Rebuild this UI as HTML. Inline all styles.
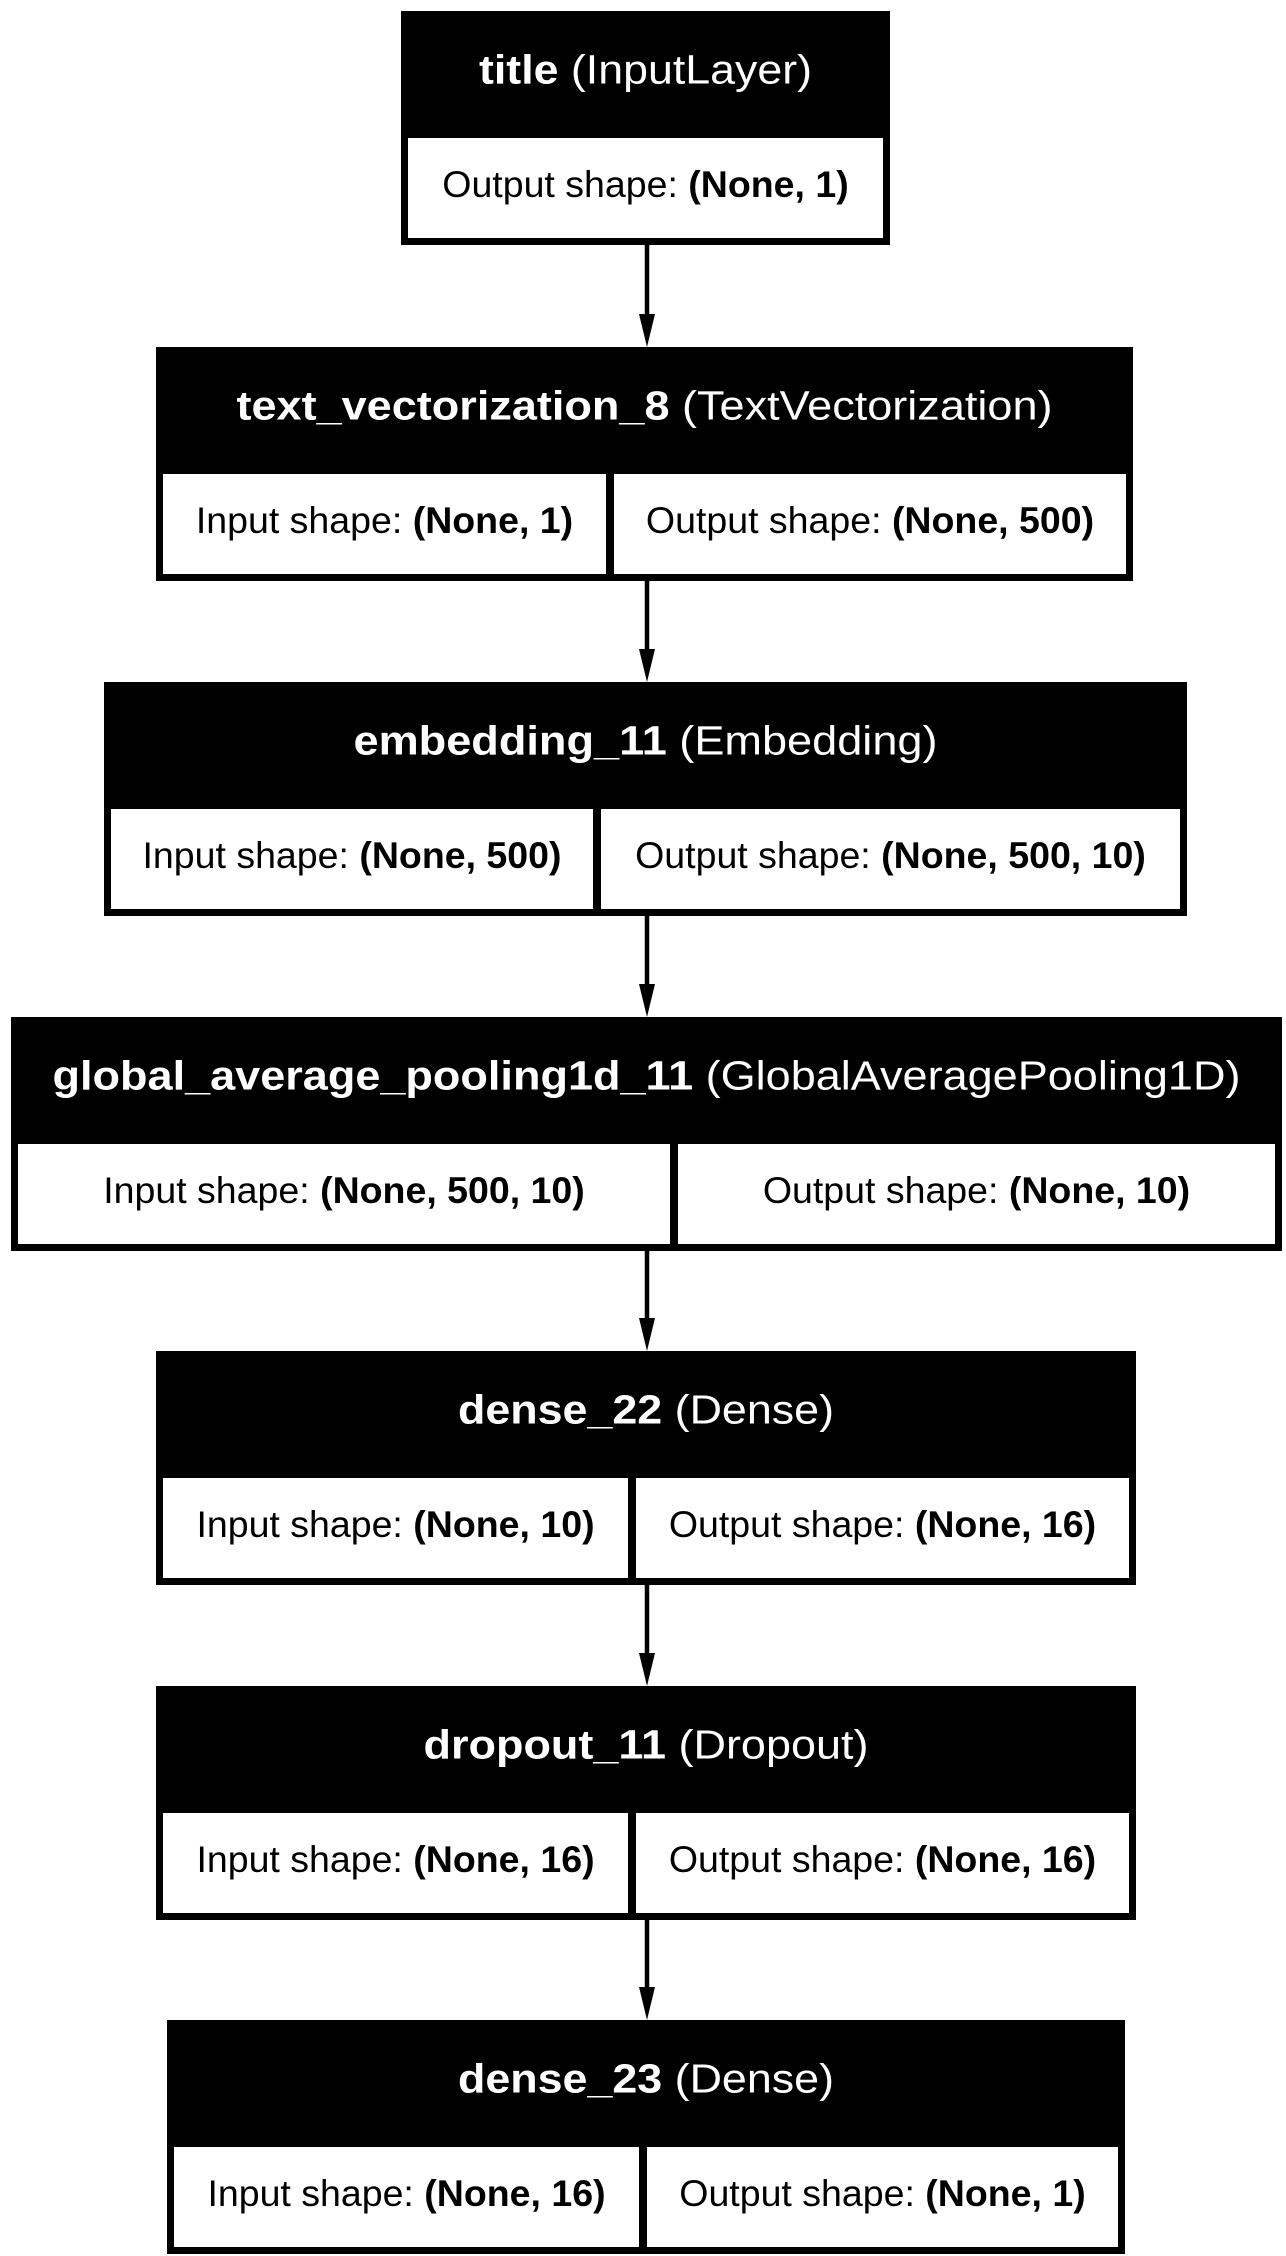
<!DOCTYPE html>
<html><head><meta charset="utf-8"><style>
html,body{margin:0;padding:0;background:#fff;}
svg{display:block;font-family:"Liberation Sans",Arial,sans-serif;}
</style></head><body>
<svg id="g" width="1286" height="2256" viewBox="0 0 1286 2256" xmlns="http://www.w3.org/2000/svg"></svg>
<script>
const names=["title","text_vectorization_8","embedding_11","global_average_pooling1d_11","dense_22","dropout_11","dense_23"];
const types=["InputLayer","TextVectorization","Embedding","GlobalAveragePooling1D","Dense","Dropout","Dense"];
const inShapes=[null,"(None, 1)","(None, 500)","(None, 500, 10)","(None, 10)","(None, 16)","(None, 16)"];
const outShapes=["(None, 1)","(None, 500)","(None, 500, 10)","(None, 10)","(None, 16)","(None, 16)","(None, 1)"];
const tops=[11,347,682,1017,1351,1686,2020];
const lefts=[401,156,104,11,156,156,167];
const rights=[890,1133,1187,1282,1136,1136,1125];
const splits=[null,610,597,674,632,632,643];
const titleW=[333,816,584,1188,376,445,376];
const NS="http://www.w3.org/2000/svg";
const svg=document.getElementById('g');
const H=234, HEAD=127, B=7;
function mk(t,a){const e=document.createElementNS(NS,t);for(const k in a)e.setAttribute(k,a[k]);return e;}
function cellText(x,y,label,val,name){
  const t=mk('text',{x:x,y:y,'text-anchor':'middle','font-size':'37.5','fill':'#000'});
  
  
  const a=mk('tspan',{});a.textContent=label+' ';
  const b=mk('tspan',{'font-weight':'bold'});b.textContent=val;
  t.appendChild(a);t.appendChild(b);return t;
}
for(let i=0;i<names.length;i++){
  const g=mk('g',{});
  
  
  const x1=lefts[i],x2=rights[i],y=tops[i];
  g.appendChild(mk('rect',{x:x1,y:y,width:x2-x1,height:H,fill:'#000'}));
  const cy=y+HEAD, ch=H-HEAD-B;
  if(splits[i]===null){
    g.appendChild(mk('rect',{x:x1+B,y:cy,width:x2-x1-2*B,height:ch,fill:'#fff'}));
    g.appendChild(cellText((x1+x2)/2,cy+ch/2+9,'Output shape:',outShapes[i],'output-shape-'+i));
  } else {
    const s=splits[i];
    g.appendChild(mk('rect',{x:x1+B,y:cy,width:s-4-(x1+B),height:ch,fill:'#fff'}));
    g.appendChild(mk('rect',{x:s+4,y:cy,width:x2-B-(s+4),height:ch,fill:'#fff'}));
    g.appendChild(cellText((x1+B+s-4)/2,cy+ch/2+9,'Input shape:',inShapes[i],'input-shape-'+i));
    g.appendChild(cellText((s+4+x2-B)/2,cy+ch/2+9,'Output shape:',outShapes[i],'output-shape-'+i));
  }
  const t=mk('text',{x:(x1+x2)/2,y:y+HEAD/2+9,'text-anchor':'middle','font-size':'41','fill':'#fff',textLength:titleW[i],lengthAdjust:'spacingAndGlyphs'});
  
  
  const a=mk('tspan',{'font-weight':'bold'});a.textContent=names[i]+' ';
  const b=mk('tspan',{});b.textContent='('+types[i]+')';
  t.appendChild(a);t.appendChild(b);g.appendChild(t);
  svg.appendChild(g);
  if(i<names.length-1){
    const ay1=y+H, ay2=tops[i+1];
    const ar=mk('g',{});
    
    
    ar.appendChild(mk('line',{x1:647,y1:ay1,x2:647,y2:ay2-30,stroke:'#000','stroke-width':'4.5'}));
    ar.appendChild(mk('polygon',{points:`639,${ay2-33} 655,${ay2-33} 647,${ay2}`,fill:'#000'}));
    svg.appendChild(ar);
  }
}
</script>
</body></html>
